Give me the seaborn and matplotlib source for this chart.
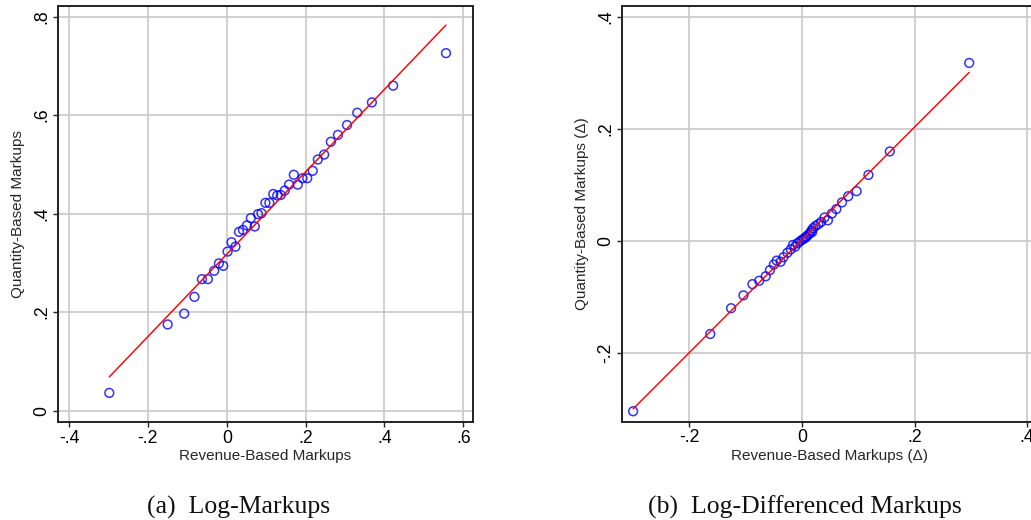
import numpy as np
import pandas as pd
import matplotlib
matplotlib.use("Agg")
import matplotlib.pyplot as plt
import seaborn as sns

# Panel (a): quantile pairs of log-markups
rev_log = [-0.298, -0.150, -0.108, -0.082, -0.063, -0.048, -0.032, -0.020, -0.009, 0.002,
           0.012, 0.022, 0.031, 0.041, 0.051, 0.061, 0.071, 0.079, 0.088, 0.098,
           0.108, 0.118, 0.128, 0.137, 0.147, 0.158, 0.170, 0.180, 0.192, 0.204,
           0.218, 0.231, 0.247, 0.264, 0.282, 0.305, 0.331, 0.368, 0.422, 0.556]
qty_log = [0.036, 0.175, 0.197, 0.231, 0.267, 0.267, 0.284, 0.299, 0.294, 0.323,
           0.342, 0.333, 0.363, 0.367, 0.376, 0.391, 0.374, 0.399, 0.401, 0.422,
           0.422, 0.440, 0.437, 0.438, 0.447, 0.459, 0.479, 0.459, 0.472, 0.472,
           0.487, 0.510, 0.520, 0.546, 0.560, 0.580, 0.605, 0.626, 0.660, 0.726]

# Panel (b): quantile pairs of log-differenced markups
rev_diff = [-0.300, -0.163, -0.126, -0.104, -0.088, -0.076, -0.0645, -0.057, -0.050, -0.045,
            -0.038, -0.033, -0.026, -0.020, -0.016, -0.012, -0.008, -0.004, 0.000, 0.003,
            0.006, 0.008, 0.011, 0.014, 0.017, 0.018, 0.020, 0.024, 0.029, 0.034,
            0.040, 0.046, 0.053, 0.061, 0.071, 0.082, 0.097, 0.118, 0.156, 0.297]
qty_diff = [-0.304, -0.166, -0.120, -0.097, -0.077, -0.071, -0.063, -0.052, -0.042, -0.035,
            -0.037, -0.029, -0.021, -0.015, -0.007, -0.010, -0.004, -0.001, 0.002, 0.004,
            0.006, 0.008, 0.011, 0.014, 0.019, 0.016, 0.023, 0.027, 0.030, 0.034,
            0.042, 0.037, 0.049, 0.057, 0.069, 0.080, 0.089, 0.118, 0.160, 0.318]

# Axis ticks and their labels
a_xticks = [-0.4, -0.2, 0.0, 0.2, 0.4, 0.6]
a_xticklabels = ["-.4", "-.2", "0", ".2", ".4", ".6"]
a_yticks = [0.0, 0.2, 0.4, 0.6, 0.8]
a_yticklabels = ["0", ".2", ".4", ".6", ".8"]
b_xticks = [-0.2, 0.0, 0.2, 0.4]
b_xticklabels = ["-.2", "0", ".2", ".4"]
b_yticks = [-0.2, 0.0, 0.2, 0.4]
b_yticklabels = ["-.2", "0", ".2", ".4"]

sns.set_theme(style="whitegrid")
plt.rcParams["font.family"] = ["Liberation Sans", "DejaVu Sans"]

fig = plt.figure(figsize=(10.31, 5.20), dpi=100)
ax_a = fig.add_axes([0.0563, 0.1885, 0.4025, 0.800])
ax_b = fig.add_axes([0.6036, 0.1890, 0.4022, 0.800])

panels = [
    (ax_a, rev_log, qty_log, a_xticks, a_xticklabels, a_yticks, a_yticklabels,
     (-0.428, 0.6246), (-0.0231, 0.8218),
     "Revenue-Based Markups", "Quantity-Based Markups"),
    (ax_b, rev_diff, qty_diff, b_xticks, b_xticklabels, b_yticks, b_yticklabels,
     (-0.3192, 0.4174), (-0.3227, 0.4202),
     "Revenue-Based Markups (\u0394)", "Quantity-Based Markups (\u0394)"),
]

for (ax, xs, ys, xt, xtl, yt, ytl, xl, yl, xlab, ylab) in panels:
    df = pd.DataFrame({"x": xs, "y": ys})
    sns.regplot(data=df, x="x", y="y", ax=ax, ci=None, truncate=True,
                scatter_kws=dict(s=40, facecolors="none", edgecolors="#0000ff",
                                 linewidths=1.1, color="#0000ff", zorder=3),
                line_kws=dict(color="#ff0000", lw=1.05, zorder=4))
    ax.set_xlim(*xl)
    ax.set_ylim(*yl)
    ax.set_xticks(xt)
    ax.set_xticklabels(xtl)
    ax.set_yticks(yt)
    ax.set_yticklabels(ytl, rotation=90, va="center")
    ax.set_xlabel(xlab, fontsize=11, labelpad=2)
    ax.set_ylabel(ylab, fontsize=11, labelpad=6)
    ax.grid(True, color="#c8c8c8", lw=1.2)
    ax.set_facecolor("white")
    for s in ax.spines.values():
        s.set_visible(True)
        s.set_color("#222222")
        s.set_linewidth(1.4)
    ax.tick_params(axis="both", which="major", direction="out", length=3.5,
                   width=1.0, color="#222222", labelsize=12.7, pad=2,
                   labelcolor="black", bottom=True, left=True)

fig.text(0.2318, 0.013, "(a)  Log-Markups", ha="center", va="baseline",
         fontsize=18.5, family="Liberation Serif", color="#111111")
fig.text(0.7803, 0.013, "(b)  Log-Differenced Markups", ha="center", va="baseline",
         fontsize=18.5, family="Liberation Serif", color="#111111")

fig.savefig("out.png", dpi=100)
